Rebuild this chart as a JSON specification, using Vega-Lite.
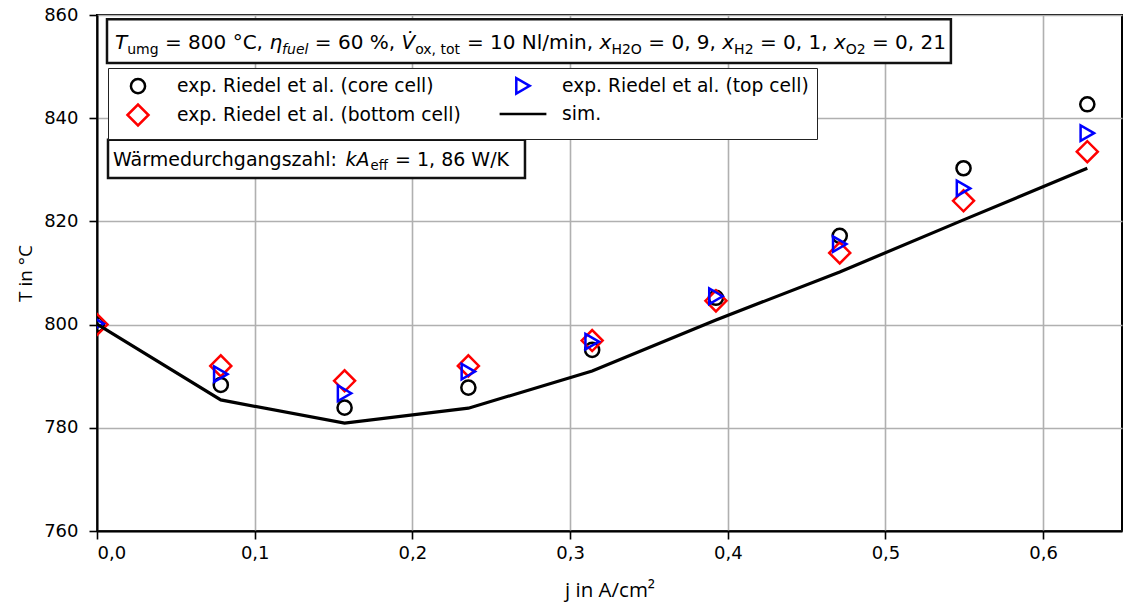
{
  "$schema": "https://vega.github.io/schema/vega-lite/v6.json",
  "width": 1025,
  "height": 516,
  "autosize": {"type": "none"},
  "padding": {"left": 97, "top": 15, "right": 1, "bottom": 77},
  "background": "white",
  "config": {
    "view": {"stroke": "black", "strokeWidth": 2},
    "axis": {
      "labelFont": "DejaVu Sans",
      "labelFontSize": 18,
      "labelColor": "black",
      "titleFont": "Open Sans",
      "titleFontWeight": "normal",
      "titleColor": "black",
      "domainColor": "black",
      "domainWidth": 2,
      "tickColor": "black",
      "tickWidth": 1.6,
      "tickSize": 8,
      "gridColor": "#b0b0b0",
      "gridWidth": 1.6
    },
    "legend": {
      "orient": "none",
      "legendX": 11,
      "legendY": 53,
      "columns": 2,
      "columnPadding": 33,
      "rowPadding": 0,
      "padding": 8,
      "strokeColor": "#222",
      "fillColor": "white",
      "cornerRadius": 0,
      "labelFont": "DejaVu Sans",
      "labelFontSize": 18.7,
      "labelColor": "black",
      "labelOffset": 27,
      "symbolOffset": 10,
      "labelLimit": 0,
      "symbolStrokeWidth": 2.5
    }
  },
  "datasets": {
    "measured": [
      {"j": 0.0, "T": 800.0, "series": "exp. Riedel et al. (core cell)"},
      {"j": 0.0785, "T": 788.3, "series": "exp. Riedel et al. (core cell)"},
      {"j": 0.157, "T": 783.9, "series": "exp. Riedel et al. (core cell)"},
      {"j": 0.2355, "T": 787.8, "series": "exp. Riedel et al. (core cell)"},
      {"j": 0.314, "T": 795.1, "series": "exp. Riedel et al. (core cell)"},
      {"j": 0.3925, "T": 805.2, "series": "exp. Riedel et al. (core cell)"},
      {"j": 0.471, "T": 817.2, "series": "exp. Riedel et al. (core cell)"},
      {"j": 0.5495, "T": 830.3, "series": "exp. Riedel et al. (core cell)"},
      {"j": 0.628, "T": 842.7, "series": "exp. Riedel et al. (core cell)"},
      {"j": 0.0, "T": 800.0, "series": "exp. Riedel et al. (bottom cell)"},
      {"j": 0.0785, "T": 792.0, "series": "exp. Riedel et al. (bottom cell)"},
      {"j": 0.157, "T": 789.1, "series": "exp. Riedel et al. (bottom cell)"},
      {"j": 0.2355, "T": 792.0, "series": "exp. Riedel et al. (bottom cell)"},
      {"j": 0.314, "T": 796.9, "series": "exp. Riedel et al. (bottom cell)"},
      {"j": 0.3925, "T": 804.6, "series": "exp. Riedel et al. (bottom cell)"},
      {"j": 0.471, "T": 813.9, "series": "exp. Riedel et al. (bottom cell)"},
      {"j": 0.5495, "T": 824.0, "series": "exp. Riedel et al. (bottom cell)"},
      {"j": 0.628, "T": 833.5, "series": "exp. Riedel et al. (bottom cell)"},
      {"j": 0.0, "T": 800.2, "series": "exp. Riedel et al. (top cell)"},
      {"j": 0.0785, "T": 790.4, "series": "exp. Riedel et al. (top cell)"},
      {"j": 0.157, "T": 786.7, "series": "exp. Riedel et al. (top cell)"},
      {"j": 0.2355, "T": 790.9, "series": "exp. Riedel et al. (top cell)"},
      {"j": 0.314, "T": 796.7, "series": "exp. Riedel et al. (top cell)"},
      {"j": 0.3925, "T": 805.5, "series": "exp. Riedel et al. (top cell)"},
      {"j": 0.471, "T": 815.6, "series": "exp. Riedel et al. (top cell)"},
      {"j": 0.5495, "T": 826.4, "series": "exp. Riedel et al. (top cell)"},
      {"j": 0.628, "T": 837.1, "series": "exp. Riedel et al. (top cell)"}
    ],
    "simulated": [
      {"j": 0.0, "T": 800.1, "series": "sim."},
      {"j": 0.0785, "T": 785.4, "series": "sim."},
      {"j": 0.157, "T": 780.9, "series": "sim."},
      {"j": 0.2355, "T": 783.8, "series": "sim."},
      {"j": 0.314, "T": 791.0, "series": "sim."},
      {"j": 0.3925, "T": 800.9, "series": "sim."},
      {"j": 0.471, "T": 810.2, "series": "sim."},
      {"j": 0.5495, "T": 820.3, "series": "sim."},
      {"j": 0.628, "T": 830.3, "series": "sim."}
    ]
  },
  "layer": [
    {
      "data": {"name": "measured"},
      "mark": {"type": "point", "filled": false, "strokeWidth": 2.5, "opacity": 1, "clip": true},
      "encoding": {
        "x": {
          "field": "j", "type": "quantitative",
          "scale": {"domain": [0, 0.65], "nice": false, "zero": false},
          "axis": {
            "values": [0, 0.1, 0.2, 0.3, 0.4, 0.5, 0.6],
            "labelExpr": "replace(format(datum.value, '.1f'), '.', ',')",
            "labelPadding": 5,
            "title": "j in A/cm²",
            "titleFontSize": 20.5,
            "titlePadding": 18
          }
        },
        "y": {
          "field": "T", "type": "quantitative",
          "scale": {"domain": [760, 860], "nice": false, "zero": false},
          "axis": {
            "values": [760, 780, 800, 820, 840, 860],
            "labelPadding": 11,
            "title": "T in °C",
            "titleFontSize": 19,
            "titlePadding": 8
          }
        },
        "color": {
          "field": "series", "type": "nominal", "title": null,
          "scale": {
            "domain": ["exp. Riedel et al. (core cell)", "exp. Riedel et al. (bottom cell)", "exp. Riedel et al. (top cell)", "sim."],
            "range": ["black", "#ff0000", "#0000ff", "black"]
          },
          "legend": {"encode": {"legend": {"update": {"strokeWidth": {"value": 2.5}}}}}
        },
        "shape": {
          "field": "series", "type": "nominal", "title": null,
          "scale": {
            "domain": ["exp. Riedel et al. (core cell)", "exp. Riedel et al. (bottom cell)", "exp. Riedel et al. (top cell)", "sim."],
            "range": ["circle", "diamond", "triangle-right", "M-2.4,0H2.4"]
          }
        },
        "size": {
          "field": "series", "type": "nominal", "title": null,
          "scale": {
            "type": "ordinal",
            "domain": ["exp. Riedel et al. (core cell)", "exp. Riedel et al. (bottom cell)", "exp. Riedel et al. (top cell)", "sim."],
            "range": [200, 441, 240, 380]
          }
        }
      }
    },
    {
      "data": {"name": "simulated"},
      "mark": {"type": "line", "strokeWidth": 3.2, "clip": true},
      "encoding": {
        "x": {"field": "j", "type": "quantitative"},
        "y": {"field": "T", "type": "quantitative"},
        "color": {"field": "series", "type": "nominal", "title": null}
      }
    },
    {
      "data": {"values": [{}]},
      "mark": {"type": "rect", "fill": "white", "stroke": "#111", "strokeWidth": 2.5},
      "encoding": {
        "x": {"datum": 0.00634}, "x2": {"datum": 0.5415},
        "y": {"datum": 859.2}, "y2": {"datum": 850.7}
      }
    },
    {
      "data": {"values": [{}]},
      "mark": {"type": "rect", "fill": "white", "stroke": "#111", "strokeWidth": 2.5},
      "encoding": {
        "x": {"datum": 0.00698}, "x2": {"datum": 0.2714},
        "y": {"datum": 835.8}, "y2": {"datum": 828.4}
      }
    },
    {
      "data": {"values": [{}]},
      "encoding": {"x": {"datum": 0}, "y": {"datum": 853.4}},
      "layer": [
        {"mark": {"type": "text", "text": "T", "font": "DejaVu Sans", "fontStyle": "italic", "fontSize": 20, "align": "left", "baseline": "alphabetic", "dx": 18}},
        {"mark": {"type": "text", "text": "umg", "font": "DejaVu Sans", "fontSize": 14, "align": "left", "baseline": "alphabetic", "dx": 30.2, "dy": 4.5}},
        {"mark": {"type": "text", "text": "= 800 °C,", "font": "DejaVu Sans", "fontSize": 20, "align": "left", "baseline": "alphabetic", "dx": 68}},
        {"mark": {"type": "text", "text": "η", "font": "DejaVu Sans", "fontStyle": "italic", "fontSize": 20, "align": "left", "baseline": "alphabetic", "dx": 172.4}},
        {"mark": {"type": "text", "text": "fuel", "font": "DejaVu Sans", "fontStyle": "italic", "fontSize": 14, "align": "left", "baseline": "alphabetic", "dx": 185.1, "dy": 4.5}},
        {"mark": {"type": "text", "text": "= 60 %,", "font": "DejaVu Sans", "fontSize": 20, "align": "left", "baseline": "alphabetic", "dx": 217.8}},
        {"mark": {"type": "text", "text": "V̇", "font": "DejaVu Sans", "fontStyle": "italic", "fontSize": 20, "align": "left", "baseline": "alphabetic", "dx": 304.5}},
        {"mark": {"type": "text", "text": "ox, tot", "font": "DejaVu Sans", "fontSize": 14, "align": "left", "baseline": "alphabetic", "dx": 318.2, "dy": 4.5}},
        {"mark": {"type": "text", "text": "= 10 Nl/min,", "font": "DejaVu Sans", "fontSize": 20, "align": "left", "baseline": "alphabetic", "dx": 369.9}},
        {"mark": {"type": "text", "text": "x", "font": "DejaVu Sans", "fontStyle": "italic", "fontSize": 20, "align": "left", "baseline": "alphabetic", "dx": 502.6}},
        {"mark": {"type": "text", "text": "H2O", "font": "DejaVu Sans", "fontSize": 14, "align": "left", "baseline": "alphabetic", "dx": 514.4, "dy": 4.5}},
        {"mark": {"type": "text", "text": "= 0, 9,", "font": "DejaVu Sans", "fontSize": 20, "align": "left", "baseline": "alphabetic", "dx": 551.3}},
        {"mark": {"type": "text", "text": "x", "font": "DejaVu Sans", "fontStyle": "italic", "fontSize": 20, "align": "left", "baseline": "alphabetic", "dx": 625.3}},
        {"mark": {"type": "text", "text": "H2", "font": "DejaVu Sans", "fontSize": 14, "align": "left", "baseline": "alphabetic", "dx": 637.1, "dy": 4.5}},
        {"mark": {"type": "text", "text": "= 0, 1,", "font": "DejaVu Sans", "fontSize": 20, "align": "left", "baseline": "alphabetic", "dx": 662.9}},
        {"mark": {"type": "text", "text": "x", "font": "DejaVu Sans", "fontStyle": "italic", "fontSize": 20, "align": "left", "baseline": "alphabetic", "dx": 736.9}},
        {"mark": {"type": "text", "text": "O2", "font": "DejaVu Sans", "fontSize": 14, "align": "left", "baseline": "alphabetic", "dx": 748.7, "dy": 4.5}},
        {"mark": {"type": "text", "text": "= 0, 21", "font": "DejaVu Sans", "fontSize": 20, "align": "left", "baseline": "alphabetic", "dx": 775}}
      ]
    },
    {
      "data": {"values": [{}]},
      "encoding": {"x": {"datum": 0}, "y": {"datum": 830.8}},
      "layer": [
        {"mark": {"type": "text", "text": "Wärmedurchgangszahl:", "font": "DejaVu Sans", "fontSize": 19, "align": "left", "baseline": "alphabetic", "dx": 16}},
        {"mark": {"type": "text", "text": "k", "font": "DejaVu Sans", "fontStyle": "italic", "fontSize": 19, "align": "left", "baseline": "alphabetic", "dx": 248.5}},
        {"mark": {"type": "text", "text": "A", "font": "DejaVu Sans", "fontStyle": "italic", "fontSize": 19, "align": "left", "baseline": "alphabetic", "dx": 259.5}},
        {"mark": {"type": "text", "text": "eff", "font": "DejaVu Sans", "fontSize": 13.3, "align": "left", "baseline": "alphabetic", "dx": 273.5, "dy": 4.2}},
        {"mark": {"type": "text", "text": "= 1, 86 W/K", "font": "DejaVu Sans", "fontSize": 19, "align": "left", "baseline": "alphabetic", "dx": 298}}
      ]
    }
  ]
}
